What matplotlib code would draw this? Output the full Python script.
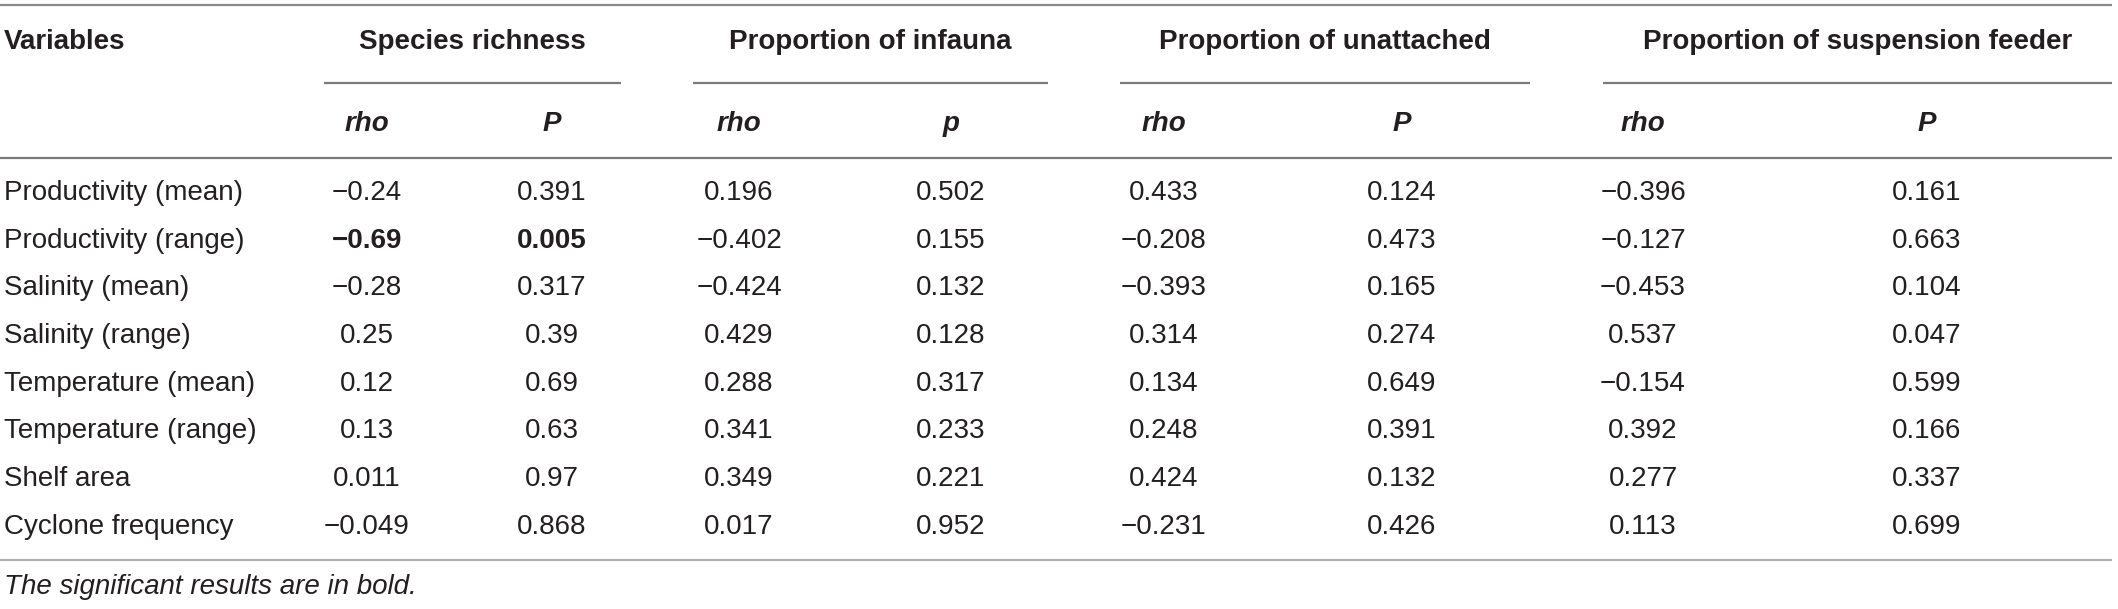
import matplotlib; matplotlib.use("Agg")
import matplotlib.pyplot as plt

variables = ["Productivity (mean)", "Productivity (range)", "Salinity (mean)", "Salinity (range)",
             "Temperature (mean)", "Temperature (range)", "Shelf area", "Cyclone frequency"]
groups = ["Species richness", "Proportion of infauna", "Proportion of unattached",
          "Proportion of suspension feeder"]
subheads = ["rho", "P", "rho", "p", "rho", "P", "rho", "P"]
species_rho = ["\u22120.24", "\u22120.69", "\u22120.28", "0.25", "0.12", "0.13", "0.011", "\u22120.049"]
species_p = ["0.391", "0.005", "0.317", "0.39", "0.69", "0.63", "0.97", "0.868"]
infauna_rho = ["0.196", "\u22120.402", "\u22120.424", "0.429", "0.288", "0.341", "0.349", "0.017"]
infauna_p = ["0.502", "0.155", "0.132", "0.128", "0.317", "0.233", "0.221", "0.952"]
unatt_rho = ["0.433", "\u22120.208", "\u22120.393", "0.314", "0.134", "0.248", "0.424", "\u22120.231"]
unatt_p = ["0.124", "0.473", "0.165", "0.274", "0.649", "0.391", "0.132", "0.426"]
susp_rho = ["\u22120.396", "\u22120.127", "\u22120.453", "0.537", "\u22120.154", "0.392", "0.277", "0.113"]
susp_p = ["0.161", "0.663", "0.104", "0.047", "0.599", "0.166", "0.337", "0.699"]
bold_cells = {(1, 0), (1, 1)}  # (row, column) significant results
footnote = "The significant results are in bold."

columns = [species_rho, species_p, infauna_rho, infauna_p, unatt_rho, unatt_p, susp_rho, susp_p]

# layout in pixel coords
W, H = 2118, 609
col_x = [367, 552, 739, 951, 1164, 1402, 1643, 1927]
grp_span = [(324, 621), (693, 1048), (1120, 1530), (1603, 2112)]
row_y0, row_dy = 193, 47.7
FS = 20
TXT = "#231f20"
FONT = ["Liberation Sans", "DejaVu Sans"]

fig = plt.figure(figsize=(W / 100, H / 100), dpi=100)
ax = fig.add_axes([0, 0, 1, 1])
ax.set_xlim(0, W); ax.set_ylim(H, 0); ax.axis("off")

ax.plot([0, 2112], [5, 5], color="#8a8a8a", lw=1.6, solid_capstyle="butt")
ax.plot([0, 2112], [158, 158], color="#7a7a7a", lw=1.6, solid_capstyle="butt")
ax.plot([0, 2112], [560, 560], color="#b0b0b0", lw=1.6, solid_capstyle="butt")

ax.text(4, 42, "Variables", fontsize=FS, fontweight="bold", family=FONT, color=TXT, va="center", ha="left")
for g, (a, b) in zip(groups, grp_span):
    ax.text((a + b) / 2, 42, g, fontsize=FS, fontweight="bold", family=FONT, color=TXT, va="center", ha="center")
    ax.plot([a, b], [83, 83], color="#7a7a7a", lw=1.6, solid_capstyle="butt")
for s, x in zip(subheads, col_x):
    ax.text(x, 124, s, fontsize=FS, fontweight="bold", style="italic", family=FONT, color=TXT,
            va="center", ha="center")

for i, v in enumerate(variables):
    y = row_y0 + i * row_dy
    ax.text(4, y, v, fontsize=FS, family=FONT, color=TXT, va="center", ha="left")
    for j, (col, x) in enumerate(zip(columns, col_x)):
        w = "bold" if (i, j) in bold_cells else "normal"
        ax.text(x, y, col[i], fontsize=FS, fontweight=w, family=FONT, color=TXT, va="center", ha="center")

ax.text(4, 587, footnote, fontsize=FS, style="italic", family=FONT, color=TXT, va="center", ha="left")

fig.savefig("out.png", dpi=100)
